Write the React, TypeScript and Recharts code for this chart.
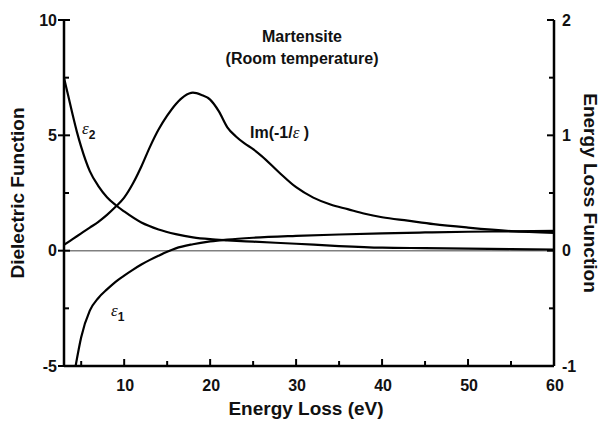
import React from 'react';
import { LineChart, Line, XAxis, YAxis, ReferenceLine } from 'recharts';

// ε2 (left axis, Dielectric Function)
const eps2E = [3, 3.5, 4, 4.5, 5, 6, 7, 8, 9, 10, 12, 14, 16, 18, 20, 22, 25, 30, 35, 40, 45, 50, 55, 60];
const eps2V = [7.5, 6.7, 5.9, 5.15, 4.5, 3.45, 2.8, 2.32, 1.98, 1.7, 1.22, 0.92, 0.72, 0.58, 0.5, 0.45, 0.39, 0.3, 0.2, 0.13, 0.11, 0.09, 0.07, 0.05];

// ε1 (left axis)
const eps1E = [4.35, 5, 6, 7, 8, 9, 10, 11, 12, 13, 14, 15, 16, 18, 20, 22, 25, 30, 35, 40, 45, 50, 55, 60];
const eps1V = [-5, -3.75, -2.6, -2.05, -1.68, -1.35, -1.08, -0.83, -0.6, -0.4, -0.22, -0.05, 0.1, 0.28, 0.4, 0.48, 0.56, 0.64, 0.7, 0.75, 0.79, 0.82, 0.84, 0.86];

// Im(-1/ε) (right axis, Energy Loss Function)
const lossE = [3, 4, 5, 6, 7, 8, 9, 10, 11, 12, 13, 14, 15, 16, 17, 18, 19, 20, 21, 22, 23, 24, 25, 26, 28, 30, 32, 34, 36, 38, 40, 43, 46, 50, 55, 60];
const lossV = [0.05, 0.1, 0.15, 0.2, 0.25, 0.31, 0.38, 0.46, 0.58, 0.73, 0.9, 1.05, 1.17, 1.27, 1.34, 1.37, 1.35, 1.31, 1.21, 1.07, 0.99, 0.93, 0.88, 0.82, 0.68, 0.55, 0.46, 0.4, 0.36, 0.32, 0.29, 0.26, 0.23, 0.2, 0.17, 0.155];

const xTicks = [5, 10, 15, 20, 25, 30, 35, 40, 45, 50, 55, 60];
const leftTicks = [-5, -2.5, 0, 2.5, 5, 7.5, 10];
const rightTicks = [-1, -0.5, 0, 0.5, 1, 1.5, 2];

const eps2Data = eps2E.map((e, i) => ({ e, v: eps2V[i] }));
const eps1Data = eps1E.map((e, i) => ({ e, v: eps1V[i] }));
const lossData = lossE.map((e, i) => ({ e, v: lossV[i] }));

const FONT = '"Liberation Sans", Arial, Helvetica, sans-serif';
const SERIF = '"Liberation Serif", "DejaVu Serif", serif';

const XTick = (props: any) => {
  const { x, y, payload } = props;
  const major = payload.value % 10 === 0;
  return (
    <g>
      <path d={`M${x},${y}V${y - (major ? 7 : 5)}`} stroke="#000" strokeWidth={2} />
      {major && (
        <text x={x + 1} y={y + 19} textAnchor="middle" dominantBaseline="central" fontFamily={FONT} fontWeight="bold" fontSize={16} fill="#111">
          {payload.value}
        </text>
      )}
    </g>
  );
};

const LeftTick = (props: any) => {
  const { x, y, payload } = props;
  const major = payload.value % 5 === 0;
  return (
    <g>
      <path d={`M${major ? x - 6 : x},${y}H${x + (major ? 6 : 5)}`} stroke="#000" strokeWidth={2} />
      {major && (
        <text x={x - 7} y={y} textAnchor="end" dominantBaseline="central" fontFamily={FONT} fontWeight="bold" fontSize={16} fill="#111">
          {payload.value}
        </text>
      )}
    </g>
  );
};

const RightTick = (props: any) => {
  const { x, y, payload } = props;
  const major = Number.isInteger(payload.value);
  return (
    <g>
      <path d={`M${x - (major ? 7 : 5)},${y}H${x}`} stroke="#000" strokeWidth={2} />
      {major && (
        <text x={x + 8} y={y} textAnchor="start" dominantBaseline="central" fontFamily={FONT} fontWeight="bold" fontSize={16} fill="#111">
          {payload.value}
        </text>
      )}
    </g>
  );
};

const LeftTitle = (props: any) => {
  const vb = props.viewBox || {};
  const cx = 17;
  const cy = vb.y + vb.height / 2;
  return (
    <text x={cx} y={cy} transform={`rotate(-90 ${cx} ${cy})`} textAnchor="middle" dominantBaseline="central" fontFamily={FONT} fontWeight="bold" fontSize={19} fill="#111">
      Dielectric Function
    </text>
  );
};

const RightTitle = (props: any) => {
  const vb = props.viewBox || {};
  const cx = 590;
  const cy = vb.y + vb.height / 2;
  return (
    <text x={cx} y={cy} transform={`rotate(90 ${cx} ${cy})`} textAnchor="middle" dominantBaseline="central" fontFamily={FONT} fontWeight="bold" fontSize={19} fill="#111">
      Energy Loss Function
    </text>
  );
};

const BottomTitle = (props: any) => {
  const vb = props.viewBox || {};
  const cx = vb.x + vb.width / 2 - 3;
  return (
    <text x={cx} y={408} textAnchor="middle" dominantBaseline="central" fontFamily={FONT} fontWeight="bold" fontSize={19} fill="#111">
      Energy Loss (eV)
    </text>
  );
};

const axisLineStyle = { stroke: '#000', strokeWidth: 2.5 };

export default function App() {
  return (
    <div style={{ position: 'absolute', left: 0, top: 0, width: 604, height: 421, background: '#fff' }}>
      <LineChart width={604} height={421} margin={{ top: 20, right: 0, bottom: 0, left: 0 }}>
        <XAxis xAxisId="bottom" dataKey="e" type="number" domain={[3, 60]} ticks={xTicks} interval={0} allowDataOverflow height={55}
          tickSize={0} tickMargin={0} tickLine={false} tick={<XTick />} axisLine={axisLineStyle} label={<BottomTitle />} />
        <XAxis xAxisId="top" orientation="top" dataKey="e" type="number" domain={[3, 60]} height={0} tick={false} tickLine={false} axisLine={axisLineStyle} />
        <YAxis yAxisId="left" type="number" domain={[-5, 10]} ticks={leftTicks} interval={0} allowDataOverflow width={64}
          tickSize={0} tickMargin={0} tickLine={false} tick={<LeftTick />} axisLine={axisLineStyle} label={<LeftTitle />} />
        <YAxis yAxisId="right" orientation="right" type="number" domain={[-1, 2]} ticks={rightTicks} interval={0} allowDataOverflow width={50}
          tickSize={0} tickMargin={0} tickLine={false} tick={<RightTick />} axisLine={axisLineStyle} label={<RightTitle />} />
        <ReferenceLine xAxisId="bottom" yAxisId="left" y={0} stroke="#808080" strokeWidth={1.5} />
        <Line xAxisId="bottom" yAxisId="left" data={eps2Data} dataKey="v" type="monotone" stroke="#000" strokeWidth={2.2} dot={false} isAnimationActive={false} />
        <Line xAxisId="bottom" yAxisId="left" data={eps1Data} dataKey="v" type="monotone" stroke="#000" strokeWidth={2.2} dot={false} isAnimationActive={false} />
        <Line xAxisId="bottom" yAxisId="right" data={lossData} dataKey="v" type="monotone" stroke="#000" strokeWidth={2.2} dot={false} isAnimationActive={false} />
        <text x={302} y={36} textAnchor="middle" dominantBaseline="central" fontFamily={FONT} fontWeight="bold" fontSize={16} fill="#111">Martensite</text>
        <text x={302} y={58} textAnchor="middle" dominantBaseline="central" fontFamily={FONT} fontWeight="bold" fontSize={16} fill="#111">(Room temperature)</text>
        <text x={250} y={138} fontFamily={FONT} fontWeight="bold" fontSize={16} fill="#111">
          Im(-1/<tspan fontFamily={SERIF} fontStyle="italic" fontWeight="normal" fontSize={17}>ε</tspan> )
        </text>
        <text x={82} y={134} fontFamily={SERIF} fontStyle="italic" fontSize={17} fill="#111">
          ε<tspan fontFamily={FONT} fontStyle="normal" fontWeight="bold" fontSize={12} dy={5}>2</tspan>
        </text>
        <text x={111} y={316} fontFamily={SERIF} fontStyle="italic" fontSize={17} fill="#111">
          ε<tspan fontFamily={FONT} fontStyle="normal" fontWeight="bold" fontSize={12} dy={5}>1</tspan>
        </text>
      </LineChart>
    </div>
  );
}
